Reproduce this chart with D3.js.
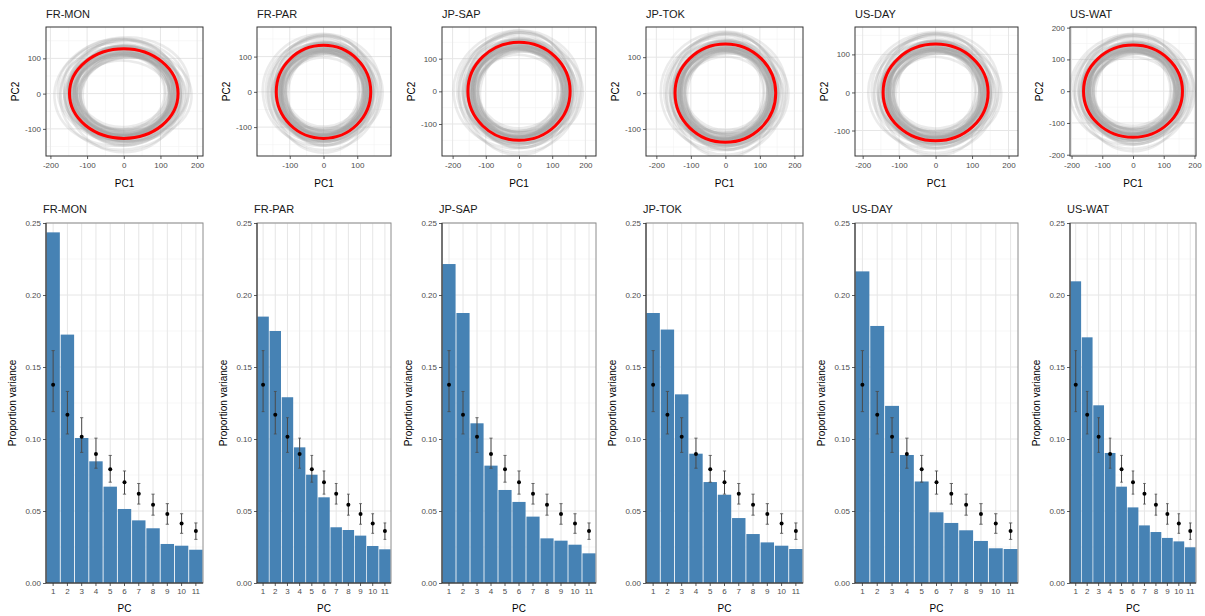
<!DOCTYPE html>
<html>
<head>
<meta charset="utf-8">
<script src="https://cdn.jsdelivr.net/npm/d3@7"></script>
<style>
  body { margin: 0; background: #fff; }
  svg { font-family: "Liberation Sans", Arial, sans-serif; }
</style>
</head>
<body>
<svg id="chart" width="1205" height="616"></svg>
<script>
// ---- data ----
const sites = ["FR-MON", "FR-PAR", "JP-SAP", "JP-TOK", "US-DAY", "US-WAT"];
const pcLabels = ["1", "2", "3", "4", "5", "6", "7", "8", "9", "10", "11"];

// proportion of variance per PC, one array per site
const varFrMon = [0.2435, 0.1725, 0.1007, 0.0845, 0.0669, 0.0514, 0.0435, 0.0380, 0.0271, 0.0259, 0.0231];
const varFrPar = [0.1850, 0.1750, 0.1290, 0.0942, 0.0752, 0.0595, 0.0387, 0.0368, 0.0329, 0.0257, 0.0234];
const varJpSap = [0.2215, 0.1875, 0.1109, 0.0815, 0.0646, 0.0563, 0.0461, 0.0310, 0.0294, 0.0266, 0.0206];
const varJpTok = [0.1875, 0.1760, 0.1310, 0.0898, 0.0701, 0.0613, 0.0451, 0.0340, 0.0282, 0.0259, 0.0236];
const varUsDay = [0.2164, 0.1785, 0.1230, 0.0889, 0.0705, 0.0491, 0.0417, 0.0366, 0.0292, 0.0241, 0.0236];
const varUsWat = [0.2095, 0.1706, 0.1234, 0.0903, 0.0669, 0.0525, 0.0400, 0.0354, 0.0313, 0.0289, 0.0248];

// null expectation (same in every panel): point and interval
const nullMean = [0.1377, 0.1169, 0.1016, 0.0896, 0.0790, 0.0699, 0.0620, 0.0544, 0.0479, 0.0414, 0.0361];
const nullLo   = [0.1190, 0.1035, 0.0907, 0.0797, 0.0700, 0.0617, 0.0548, 0.0471, 0.0408, 0.0345, 0.0303];
const nullHi   = [0.1614, 0.1330, 0.1148, 0.1006, 0.0886, 0.0778, 0.0691, 0.0617, 0.0551, 0.0481, 0.0417];

// mean seasonal loop (red) radii in PC1 / PC2 units
const redRx = [148, 140, 154, 146, 144, 161];
const redRy = [127, 132, 150, 137, 127, 145];

// spread of the individual loops (grey) relative to the mean loop
const grayRx = [0.78, 0.80, 0.82, 0.83, 0.84, 0.85, 0.86, 0.87, 0.88, 0.88, 0.89, 0.90, 0.90, 0.91,
                0.92, 0.92, 0.93, 0.94, 0.94, 0.95, 0.96, 0.96, 0.97, 0.98, 0.99, 1.00, 1.01, 1.02,
                1.04, 1.06, 1.08, 1.10, 1.12, 1.15, 1.18, 1.21, 1.25, 0.86, 0.91, 0.95, 1.00, 1.05];
const grayRy = [0.84, 0.92, 0.80, 0.95, 0.88, 1.02, 0.83, 0.97, 0.90, 0.86, 1.05, 0.89, 0.94, 0.82,
                1.00, 0.91, 0.87, 1.08, 0.93, 0.85, 0.99, 0.96, 1.12, 0.90, 0.94, 0.88, 1.18, 0.97,
                0.92, 1.01, 1.03, 1.14, 0.95, 1.10, 1.22, 1.06, 1.20, 0.79, 0.98, 0.87, 1.15, 1.27];
const grayTilt = [0, 8, -6, 3, -10, 12, -4, 5, 0, -8, 6, -2, 10, -12, 4, -5, 2, 7, -9, 1, -3,
                  9, -7, 3, 0, -11, 5, -4, 8, -6, 2, 11, -1, 6, -8, 4, -10, 7, -3, 9, -5, 1];
const grayDx = [-4, 6, 2, -8, 5, -3, 9, 0, -6, 3, -2, 7, -9, 4, 1, -5, 8, -1, 2, -7, 6,
                -4, 3, 10, -3, 0, 5, -8, 2, -6, 7, -2, 4, -10, 1, 6, -5, 3, -1, 8, -4, 0];
const grayDy = [3, -5, 7, 1, -8, 4, -2, 6, -4, 9, 0, -6, 2, -3, 8, -7, 5, -1, 3, 6, -9,
                2, -5, 0, 7, -3, 4, -8, 1, 5, -2, 9, -6, 3, -4, 0, 6, -7, 2, -1, 4, -5];

// axis limits and breaks of the PCA panels
const pcaXDomain = [[-212, 216], [-197, 200], [-232, 232], [-230, 225], [-221, 226], [-205, 205]];
const pcaYDomain = [[-177, 189], [-182, 184], [-198, 197], [-175, 184], [-167, 172], [-204, 202]];
const xTicksWide = [-200, -100, 0, 100, 200];
const xTicksNarrow = [-100, 0, 100];
const yTicksPc2 = [-100, 0, 100];
const yTicksPc2Wide = [-200, -100, 0, 100, 200];
const varTicks = [0, 0.05, 0.10, 0.15, 0.20, 0.25];

const varBySite = [varFrMon, varFrPar, varJpSap, varJpTok, varUsDay, varUsWat];
const pcaXTicks = [xTicksWide, xTicksNarrow, xTicksWide, xTicksWide, xTicksWide, xTicksWide];
const pcaYTicks = [yTicksPc2, yTicksPc2, yTicksPc2, yTicksPc2, yTicksPc2, yTicksPc2Wide];

// ---- layout ----
const cols = [
  { x0: 46, x1: 203 }, { x0: 257, x1: 391 }, { x0: 442, x1: 596 },
  { x0: 646, x1: 803 }, { x0: 855, x1: 1018 }, { x0: 1070, x1: 1196 }
];
const topY = [27, 156];
const botY = [223, 583];

const svg = d3.select("#chart");

function minorOf(ticks, domain) {
  const step = ticks[1] - ticks[0];
  const out = [];
  for (let v = ticks[0] - step / 2; v <= domain[1]; v += step) {
    if (v >= domain[0]) out.push(v);
  }
  return out;
}

function styleAxis(g) {
  g.select(".domain").remove();
  g.selectAll(".tick line").attr("stroke", "#333").attr("stroke-width", 0.8);
  g.selectAll(".tick text").attr("fill", "#4d4d4d").attr("font-size", 8);
}

// top row: seasonal loops in PC space
function drawPca(i) {
  const c = cols[i];
  const x = d3.scaleLinear().domain(pcaXDomain[i]).range([c.x0, c.x1]);
  const y = d3.scaleLinear().domain(pcaYDomain[i]).range([topY[1], topY[0]]);
  const g = svg.append("g");

  g.append("clipPath").attr("id", "clip" + i)
    .append("rect").attr("x", c.x0).attr("y", topY[0])
    .attr("width", c.x1 - c.x0).attr("height", topY[1] - topY[0]);

  const grid = g.append("g");
  minorOf(pcaXTicks[i], pcaXDomain[i]).forEach(v => {
    grid.append("line").attr("x1", x(v)).attr("x2", x(v)).attr("y1", topY[0]).attr("y2", topY[1])
      .attr("stroke", "#f2f2f2").attr("stroke-width", 0.6);
  });
  minorOf(pcaYTicks[i], pcaYDomain[i]).forEach(v => {
    grid.append("line").attr("y1", y(v)).attr("y2", y(v)).attr("x1", c.x0).attr("x2", c.x1)
      .attr("stroke", "#f2f2f2").attr("stroke-width", 0.6);
  });
  pcaXTicks[i].forEach(v => {
    grid.append("line").attr("x1", x(v)).attr("x2", x(v)).attr("y1", topY[0]).attr("y2", topY[1])
      .attr("stroke", "#e6e6e6").attr("stroke-width", 1);
  });
  pcaYTicks[i].forEach(v => {
    grid.append("line").attr("y1", y(v)).attr("y2", y(v)).attr("x1", c.x0).attr("x2", c.x1)
      .attr("stroke", "#e6e6e6").attr("stroke-width", 1);
  });

  const loops = g.append("g").attr("clip-path", `url(#clip${i})`);
  grayRx.forEach((f, k) => {
    const cx = x(grayDx[k]), cy = y(grayDy[k]);
    loops.append("ellipse")
      .attr("cx", cx).attr("cy", cy)
      .attr("rx", x(redRx[i] * f) - x(0))
      .attr("ry", y(0) - y(redRy[i] * grayRy[k]))
      .attr("transform", `rotate(${grayTilt[k]},${cx},${cy})`)
      .attr("fill", "none")
      .attr("stroke", "#a3a3a3")
      .attr("stroke-opacity", 0.22)
      .attr("stroke-width", 2.6);
  });
  loops.append("ellipse")
    .attr("cx", x(0)).attr("cy", y(0))
    .attr("rx", x(redRx[i]) - x(0))
    .attr("ry", y(0) - y(redRy[i]))
    .attr("fill", "none").attr("stroke", "#ff0000").attr("stroke-width", 3);

  g.append("rect").attr("x", c.x0).attr("y", topY[0])
    .attr("width", c.x1 - c.x0).attr("height", topY[1] - topY[0])
    .attr("fill", "none").attr("stroke", "#333").attr("stroke-width", 1);

  g.append("g").attr("transform", `translate(0,${topY[1]})`)
    .call(d3.axisBottom(x).tickValues(pcaXTicks[i]).tickFormat(d => String(d)).tickSize(3).tickPadding(3))
    .call(styleAxis);
  g.append("g").attr("transform", `translate(${c.x0},0)`)
    .call(d3.axisLeft(y).tickValues(pcaYTicks[i]).tickFormat(d => String(d)).tickSize(3).tickPadding(2))
    .call(styleAxis);

  g.append("text").attr("x", c.x0).attr("y", 18)
    .attr("font-size", 11).attr("fill", "#1a1a1a").text(sites[i]);
  g.append("text").attr("x", (c.x0 + c.x1) / 2).attr("y", 187)
    .attr("text-anchor", "middle").attr("font-size", 10).text("PC1");
  g.append("text")
    .attr("transform", `translate(${c.x0 - 27},${(topY[0] + topY[1]) / 2}) rotate(-90)`)
    .attr("text-anchor", "middle").attr("font-size", 10).text("PC2");
}

// bottom row: variance explained per PC with null intervals
function drawScree(i) {
  const c = cols[i];
  const rows = pcLabels.map((pc, k) => ({
    pc, v: varBySite[i][k], m: nullMean[k], lo: nullLo[k], hi: nullHi[k]
  }));
  const x = d3.scaleBand().domain(pcLabels).range([c.x0, c.x1]).paddingInner(0.06).paddingOuter(0.03);
  const y = d3.scaleLinear().domain([0, 0.25]).range([botY[1], botY[0]]);
  const g = svg.append("g");

  const grid = g.append("g");
  minorOf(varTicks, [0, 0.25]).forEach(v => {
    grid.append("line").attr("y1", y(v)).attr("y2", y(v)).attr("x1", c.x0).attr("x2", c.x1)
      .attr("stroke", "#f2f2f2").attr("stroke-width", 0.6);
  });
  varTicks.forEach(v => {
    grid.append("line").attr("y1", y(v)).attr("y2", y(v)).attr("x1", c.x0).attr("x2", c.x1)
      .attr("stroke", "#e6e6e6").attr("stroke-width", 1);
  });
  pcLabels.forEach(pc => {
    const cx = x(pc) + x.bandwidth() / 2;
    grid.append("line").attr("x1", cx).attr("x2", cx).attr("y1", botY[0]).attr("y2", botY[1])
      .attr("stroke", "#e6e6e6").attr("stroke-width", 1);
  });

  g.append("g").selectAll("rect").data(rows).enter().append("rect")
    .attr("x", d => x(d.pc))
    .attr("y", d => y(d.v))
    .attr("width", x.bandwidth())
    .attr("height", d => y(0) - y(d.v))
    .attr("fill", "#4682b4");

  const cap = x.bandwidth() * 0.12;
  const err = g.append("g").selectAll("g").data(rows).enter().append("g")
    .attr("transform", d => `translate(${x(d.pc) + x.bandwidth() / 2},0)`);
  err.append("line").attr("y1", d => y(d.lo)).attr("y2", d => y(d.hi))
    .attr("stroke", "#4a4a4a").attr("stroke-width", 1);
  err.append("line").attr("x1", -cap).attr("x2", cap).attr("y1", d => y(d.hi)).attr("y2", d => y(d.hi))
    .attr("stroke", "#4a4a4a").attr("stroke-width", 0.8);
  err.append("line").attr("x1", -cap).attr("x2", cap).attr("y1", d => y(d.lo)).attr("y2", d => y(d.lo))
    .attr("stroke", "#4a4a4a").attr("stroke-width", 0.8);
  err.append("circle").attr("cy", d => y(d.m)).attr("r", 2).attr("fill", "#000");

  // panel outline: light on top/right, dark axis lines left/bottom
  g.append("rect").attr("x", c.x0).attr("y", botY[0])
    .attr("width", c.x1 - c.x0).attr("height", botY[1] - botY[0])
    .attr("fill", "none").attr("stroke", "#8c8c8c").attr("stroke-width", 1);
  g.append("line").attr("x1", c.x0).attr("x2", c.x0).attr("y1", botY[0]).attr("y2", botY[1])
    .attr("stroke", "#222").attr("stroke-width", 1);
  g.append("line").attr("x1", c.x0).attr("x2", c.x1).attr("y1", botY[1]).attr("y2", botY[1])
    .attr("stroke", "#222").attr("stroke-width", 1);

  g.append("g").attr("transform", `translate(0,${botY[1]})`)
    .call(d3.axisBottom(x).tickSize(3).tickPadding(2))
    .call(styleAxis);
  g.append("g").attr("transform", `translate(${c.x0},0)`)
    .call(d3.axisLeft(y).tickValues(varTicks).tickFormat(d3.format(".2f")).tickSize(3).tickPadding(2))
    .call(styleAxis);

  g.append("text").attr("x", c.x0 - 3).attr("y", 213)
    .attr("font-size", 11).attr("fill", "#1a1a1a").text(sites[i]);
  g.append("text").attr("x", (c.x0 + c.x1) / 2).attr("y", 612)
    .attr("text-anchor", "middle").attr("font-size", 10).text("PC");
  g.append("text")
    .attr("transform", `translate(${c.x0 - 30},${(botY[0] + botY[1]) / 2}) rotate(-90)`)
    .attr("text-anchor", "middle").attr("font-size", 10).text("Proportion variance");
}

sites.forEach((s, i) => { drawPca(i); drawScree(i); });
</script>
</body>
</html>
